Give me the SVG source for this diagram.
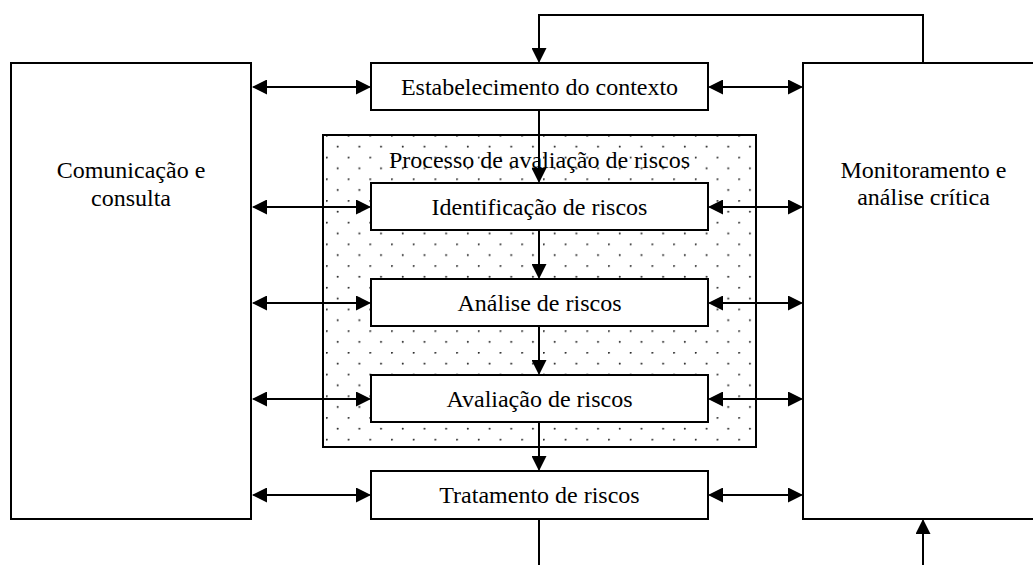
<svg xmlns="http://www.w3.org/2000/svg" width="1033" height="565" viewBox="0 0 1033 565">
<defs>
<style>
.box{fill:#fff;stroke:#000;stroke-width:2}
.lbl{font-family:"Liberation Serif","Times New Roman",serif;font-size:24px;fill:#000;text-anchor:middle}
.con{fill:none;stroke:#000;stroke-width:2}
.arr{marker-end:url(#ah)}
.dbl{marker-start:url(#ah);marker-end:url(#ah)}
</style>
<marker id="ah" viewBox="0 0 15 15" refX="13.5" refY="7.5" markerWidth="15" markerHeight="15" markerUnits="userSpaceOnUse" orient="auto-start-reverse">
<path d="M0,0 L15,7.5 L0,15 z" fill="#000"/>
</marker>
<pattern id="dots" patternUnits="userSpaceOnUse" x="326" y="135" width="21.7" height="21.7">
<circle cx="0.8" cy="0.8" r="1" fill="#222"/>
<circle cx="11.65" cy="11.65" r="1" fill="#222"/>
</pattern>
</defs>
<rect width="1033" height="565" fill="#fff"/>

<g id="process-area">
<rect x="323" y="135" width="433" height="312" fill="url(#dots)" stroke="#000" stroke-width="2"/>
<text class="lbl" x="539.5" y="168">Processo de avaliação de riscos</text>
</g>

<g id="comunicacao">
<rect class="box" x="11" y="63" width="240" height="456"/>
<text class="lbl" x="131" y="178">Comunicação e</text>
<text class="lbl" x="131" y="205.5">consulta</text>
</g>

<g id="monitoramento">
<rect class="box" x="803" y="63" width="240" height="456"/>
<text class="lbl" x="923.5" y="178">Monitoramento e</text>
<text class="lbl" x="923.5" y="205">análise crítica</text>
</g>

<g id="connectors">
<path class="con arr" d="M923,63 V15 H539 V61.5"/>
<path class="con arr" d="M539,110 V181.5"/>
<path class="con arr" d="M539,230 V277.5"/>
<path class="con arr" d="M539,326 V373.5"/>
<path class="con arr" d="M539,422 V469.5"/>
<path class="con" d="M539,519 V565"/>
<path class="con arr" d="M923,565 V520.5"/>

<path class="con dbl" d="M253.5,87 H369.5"/>
<path class="con dbl" d="M253.5,207 H369.5"/>
<path class="con dbl" d="M253.5,303 H369.5"/>
<path class="con dbl" d="M253.5,399 H369.5"/>
<path class="con dbl" d="M253.5,495 H369.5"/>

<path class="con dbl" d="M709.5,87 H801.5"/>
<path class="con dbl" d="M709.5,207 H801.5"/>
<path class="con dbl" d="M709.5,303 H801.5"/>
<path class="con dbl" d="M709.5,399 H801.5"/>
<path class="con dbl" d="M709.5,495 H801.5"/>
</g>

<g id="estabelecimento">
<rect class="box" x="371" y="63" width="337" height="47"/>
<text class="lbl" x="539.5" y="95">Estabelecimento do contexto</text>
</g>
<g id="identificacao">
<rect class="box" x="371" y="183" width="337" height="47"/>
<text class="lbl" x="539.5" y="215">Identificação de riscos</text>
</g>
<g id="analise">
<rect class="box" x="371" y="279" width="337" height="47"/>
<text class="lbl" x="539.5" y="311">Análise de riscos</text>
</g>
<g id="avaliacao">
<rect class="box" x="371" y="375" width="337" height="47"/>
<text class="lbl" x="539.5" y="407">Avaliação de riscos</text>
</g>
<g id="tratamento">
<rect class="box" x="371" y="471" width="337" height="48"/>
<text class="lbl" x="539.5" y="503">Tratamento de riscos</text>
</g>
</svg>
